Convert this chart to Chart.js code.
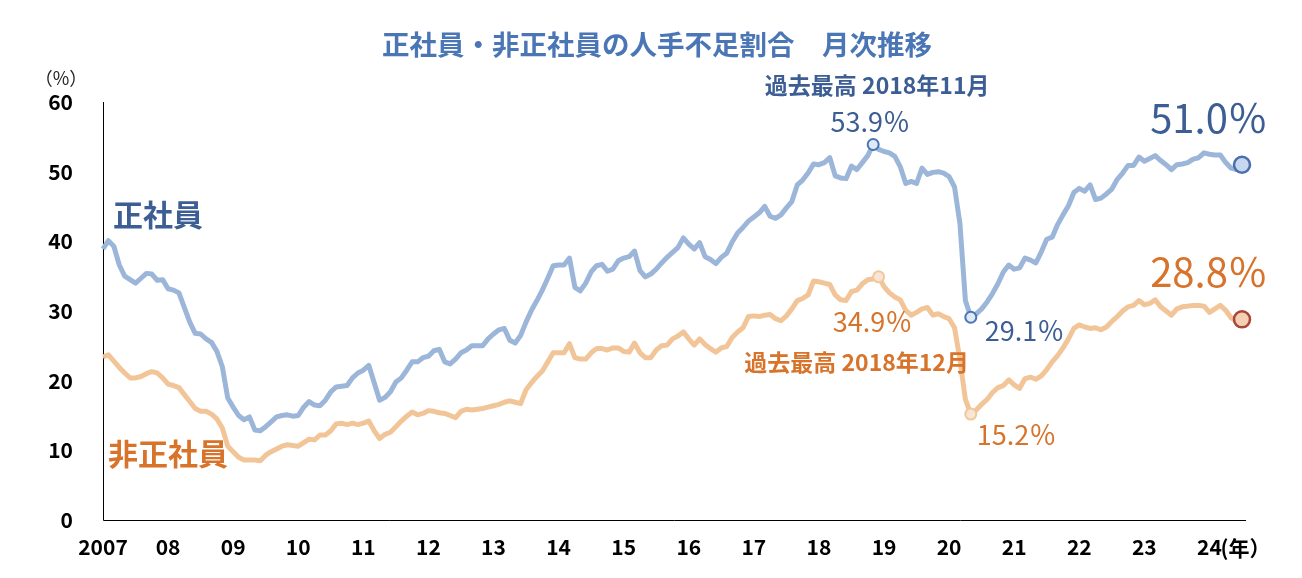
<!DOCTYPE html>
<html>
<head>
<meta charset="utf-8">
<script src="https://cdn.jsdelivr.net/npm/chart.js@4"></script>
<style>
  html, body { margin: 0; padding: 0; background: #fff; }
  #wrap { width: 1302px; height: 578px; position: relative; }
</style>
</head>
<body>
<div id="wrap"><canvas id="chart"></canvas></div>
<script>
// ─── DATA ─────────────────────────────────────────────────────────────
// Monthly series, Jan 2007 .. Jul 2024 (211 months), % of firms short of staff
const YEARS = ['2007','08','09','10','11','12','13','14','15','16','17','18','19','20','21','22','23','24'];
const MONTHS_IN_LAST_YEAR = 7;

const SEIKI = [ // 正社員
  38.9, 40.1, 39.3, 36.6, 35.0, 34.5, 34.0, 34.7, 35.4, 35.3, 34.4, 34.5,
  33.2, 33.0, 32.6, 30.5, 28.4, 26.8, 26.7, 26.0, 25.5, 24.2, 22.0, 17.5,
  16.2, 15.0, 14.4, 14.8, 12.9, 12.8, 13.4, 14.1, 14.8, 15.0, 15.1, 14.9,
  15.0, 16.2, 17.0, 16.5, 16.4, 17.2, 18.4, 19.1, 19.2, 19.3, 20.4, 21.1,
  21.5, 22.2, 19.7, 17.2, 17.6, 18.4, 19.8, 20.4, 21.5, 22.7, 22.7, 23.3,
  23.5, 24.3, 24.5, 22.7, 22.4, 23.1, 24.0, 24.4, 25.0, 25.0, 25.0, 26.0,
  26.7, 27.3, 27.5, 25.8, 25.4, 26.5, 28.4, 30.1, 31.5, 33.0, 34.7, 36.5,
  36.6, 36.6, 37.6, 33.4, 32.9, 34.0, 35.6, 36.5, 36.7, 35.7, 36.0, 37.2,
  37.6, 37.8, 38.6, 35.8, 34.9, 35.3, 36.0, 36.9, 37.7, 38.4, 39.1, 40.5,
  39.6, 38.9, 39.8, 37.8, 37.4, 36.8, 37.7, 38.3, 39.9, 41.2, 42.0, 42.9,
  43.5, 44.1, 45.0, 43.6, 43.3, 43.8, 44.8, 45.7, 48.1, 48.8, 49.8, 51.1,
  51.0, 51.3, 52.0, 49.4, 49.1, 49.0, 50.8, 50.3, 51.3, 52.3, 53.9, 53.2,
  52.9, 52.7, 52.2, 50.7, 48.3, 48.6, 48.3, 50.5, 49.6, 49.9, 50.0, 49.8,
  49.3, 47.8, 42.5, 31.5, 29.1, 29.6, 30.3, 31.3, 32.5, 33.9, 35.6, 36.6,
  36.0, 36.2, 37.6, 37.3, 36.9, 38.5, 40.3, 40.6, 42.4, 43.8, 45.1, 47.0,
  47.6, 47.2, 48.1, 46.0, 46.2, 46.8, 47.5, 48.9, 49.8, 50.9, 50.9, 52.1,
  51.5, 51.9, 52.3, 51.6, 51.0, 50.3, 51.0, 51.1, 51.3, 51.8, 52.0, 52.7,
  52.5, 52.4, 52.4, 51.3, 50.5, 50.3, 51.0,
];

const HISEIKI = [ // 非正社員
  23.4, 23.7, 22.8, 21.9, 21.1, 20.4, 20.4, 20.6, 21.0, 21.3, 21.1, 20.4,
  19.5, 19.3, 19.0, 18.0, 17.0, 16.0, 15.6, 15.6, 15.2, 14.5, 13.2, 10.6,
   9.8,  9.0,  8.6,  8.6,  8.6,  8.5,  9.3,  9.8, 10.2, 10.6, 10.8, 10.7,
  10.6, 11.1, 11.6, 11.5, 12.2, 12.2, 12.8, 13.8, 13.9, 13.7, 13.9, 13.7,
  13.9, 14.2, 12.8, 11.7, 12.3, 12.6, 13.4, 14.2, 14.9, 15.5, 15.1, 15.3,
  15.7, 15.6, 15.4, 15.3, 15.0, 14.7, 15.6, 15.9, 15.8, 15.9, 16.0, 16.2,
  16.4, 16.6, 16.9, 17.1, 16.9, 16.7, 18.7, 19.7, 20.6, 21.4, 22.7, 24.0,
  24.0, 24.0, 25.3, 23.3, 23.1, 23.1, 24.0, 24.6, 24.6, 24.4, 24.7, 24.7,
  24.2, 24.1, 25.4, 24.0, 23.3, 23.3, 24.4, 25.0, 25.1, 26.0, 26.4, 27.0,
  26.0, 25.1, 26.0, 25.2, 24.6, 24.1, 24.7, 24.9, 26.2, 27.0, 27.6, 29.2,
  29.3, 29.2, 29.4, 29.5, 28.9, 28.6, 29.3, 30.3, 31.5, 31.8, 32.3, 34.3,
  34.2, 34.0, 33.8, 32.3, 31.6, 31.5, 32.8, 33.0, 33.9, 34.5, 34.6, 34.9,
  33.5, 32.6, 32.0, 31.6, 30.1, 29.4, 29.8, 30.3, 30.5, 29.4, 29.6, 29.2,
  28.9, 27.6, 23.0, 17.3, 15.2, 15.8, 16.6, 17.3, 18.3, 19.0, 19.3, 20.1,
  19.4, 18.9, 20.3, 20.5, 20.2, 20.7, 21.6, 22.7, 23.6, 24.7, 26.0, 27.5,
  28.0, 27.7, 27.5, 27.6, 27.3, 27.7, 28.5, 29.2, 30.0, 30.6, 30.8, 31.5,
  30.9, 31.1, 31.6, 30.6, 30.0, 29.4, 30.3, 30.6, 30.7, 30.8, 30.8, 30.7,
  29.8, 30.3, 30.8, 30.1, 29.0, 28.5, 28.8,
];

const Y_TICKS = [0, 10, 20, 30, 40, 50, 60];

// month categories: "2007-01" ...
const MONTHS = [];
YEARS.forEach((y, yi) => {
  const full = yi === 0 ? 2007 : 2000 + parseInt(y, 10);
  const n = yi === YEARS.length - 1 ? MONTHS_IN_LAST_YEAR : 12;
  for (let m = 1; m <= n; m++) MONTHS.push(full + '-' + String(m).padStart(2, '0'));
});

// highlighted points (index into the series)
const SEIKI_PEAK = SEIKI.indexOf(Math.max(...SEIKI));
const SEIKI_LOW = MONTHS.indexOf('2020-05');
const HISEIKI_PEAK = HISEIKI.indexOf(Math.max(...HISEIKI));
const HISEIKI_LOW = MONTHS.indexOf('2020-05');
const LAST = MONTHS.length - 1;

// ─── STYLE ────────────────────────────────────────────────────────────
const FONT = "'Noto Sans CJK JP', 'Noto Sans', sans-serif";
const BLUE_LINE = '#9cb6d9';
const ORANGE_LINE = '#f2c598';
const BLUE_TEXT = '#3d5e94';
const ORANGE_TEXT = '#d8732b';

function pointStyle(specials) {
  return {
    pointRadius: ctx => specials[ctx.dataIndex]?.r ?? 0,
    pointHoverRadius: ctx => specials[ctx.dataIndex]?.r ?? 0,
    pointBackgroundColor: ctx => specials[ctx.dataIndex]?.fill ?? 'transparent',
    pointBorderColor: ctx => specials[ctx.dataIndex]?.stroke ?? 'transparent',
    pointBorderWidth: ctx => specials[ctx.dataIndex]?.w ?? 0,
  };
}

const seikiPts = {
  [SEIKI_PEAK]: { r: 5.5, fill: '#deebf6', stroke: '#4a74b4', w: 2 },
  [SEIKI_LOW]: { r: 5.5, fill: '#deebf6', stroke: '#4a74b4', w: 2 },
  [LAST]: { r: 8, fill: '#c6d7ef', stroke: '#4a6fae', w: 2.5 },
};
const hiseikiPts = {
  [HISEIKI_PEAK]: { r: 5.5, fill: '#f8e6d4', stroke: '#f2c79b', w: 2 },
  [HISEIKI_LOW]: { r: 5.5, fill: '#f8e6d4', stroke: '#f2c79b', w: 2 },
  [LAST]: { r: 8, fill: '#f5cfb1', stroke: '#a8463b', w: 2.5 },
};

// Axis lines, title and annotation texts
const annotatePlugin = {
  id: 'annotate',
  beforeDatasetsDraw(chart) {
    const { ctx, chartArea: a } = chart;
    ctx.save();
    ctx.strokeStyle = '#000';
    ctx.lineWidth = 1;
    ctx.beginPath();
    ctx.moveTo(a.left + 0.5, a.top);
    ctx.lineTo(a.left + 0.5, a.bottom + 0.5);
    ctx.lineTo(a.right + 4, a.bottom + 0.5);
    ctx.stroke();
    ctx.restore();
  },
  afterDraw(chart) {
    const { ctx, scales: { x, y } } = chart;
    const px = i => x.getPixelForValue(i);
    const py = v => y.getPixelForValue(v);
    const text = (s, tx, ty, color, size, weight = 'normal', align = 'center') => {
      ctx.font = `${weight} ${size}px ${FONT}`;
      ctx.fillStyle = color;
      ctx.textAlign = align;
      ctx.textBaseline = 'middle';
      ctx.fillText(s, tx, ty);
    };
    ctx.save();
    text('正社員・非正社員の人手不足割合　月次推移', 657, 45, '#4a76b6', 27.5, 'bold');
    text('（%）', 61, 78, '#222', 18);
    // year unit after the last tick label
    text('(年）', px(LAST - MONTHS_IN_LAST_YEAR + 1) + 11, 548, '#000', 21, 'bold', 'left');

    text('正社員', 113, 215, BLUE_TEXT, 30, 'bold', 'left');
    text('非正社員', 108, 454, ORANGE_TEXT, 30, 'bold', 'left');

    const bx = px(SEIKI_PEAK), by = py(SEIKI[SEIKI_PEAK]);
    text('過去最高 2018年11月', bx + 4, by - 59, BLUE_TEXT, 23, 'bold');
    text(SEIKI[SEIKI_PEAK].toFixed(1) + '％', bx - 3, by - 23, BLUE_TEXT, 27);

    const lx = px(LAST);
    text(SEIKI[LAST].toFixed(1) + '％', lx - 33, py(SEIKI[LAST]) - 47, BLUE_TEXT, 40);
    text(HISEIKI[LAST].toFixed(1) + '％', lx - 33, py(HISEIKI[LAST]) - 48, ORANGE_TEXT, 40);

    const ox = px(HISEIKI_PEAK), oy = py(HISEIKI[HISEIKI_PEAK]);
    text(HISEIKI[HISEIKI_PEAK].toFixed(1) + '％', ox - 6, oy + 45, ORANGE_TEXT, 27);
    text('過去最高 2018年12月', ox - 22, oy + 85, ORANGE_TEXT, 23, 'bold');

    text(SEIKI[SEIKI_LOW].toFixed(1) + '％', px(SEIKI_LOW) + 14, py(SEIKI[SEIKI_LOW]) + 13, BLUE_TEXT, 27, 'normal', 'left');
    text(HISEIKI[HISEIKI_LOW].toFixed(1) + '％', px(HISEIKI_LOW) + 6, py(HISEIKI[HISEIKI_LOW]) + 21, ORANGE_TEXT, 27, 'normal', 'left');
    ctx.restore();
  },
};

new Chart(document.getElementById('chart'), {
  type: 'line',
  data: {
    labels: MONTHS,
    datasets: [
      {
        label: '非正社員',
        data: HISEIKI,
        borderColor: ORANGE_LINE,
        borderWidth: 5,
        borderJoinStyle: 'round',
        tension: 0,
        clip: false,
        ...pointStyle(hiseikiPts),
      },
      {
        label: '正社員',
        data: SEIKI,
        borderColor: BLUE_LINE,
        borderWidth: 5,
        borderJoinStyle: 'round',
        tension: 0,
        clip: false,
        ...pointStyle(seikiPts),
      },
    ],
  },
  options: {
    responsive: true,
    maintainAspectRatio: false,
    animation: false,
    events: [],
    layout: { padding: { top: 102, right: 60, left: 0, bottom: 0 } },
    scales: {
      x: {
        type: 'category',
        offset: false,
        grid: { display: false, drawTicks: false },
        border: { display: false },
        afterFit: s => { s.height = 58; },
        ticks: {
          autoSkip: false,
          maxRotation: 0,
          padding: 14,
          color: '#000',
          font: { family: FONT, size: 21, weight: 'bold' },
          callback: (v, i) => (i % 12 === 0 ? YEARS[i / 12] : null),
        },
      },
      y: {
        min: 0, max: 60,
        afterFit: s => { s.width = 103; },
        afterBuildTicks: s => { s.ticks = Y_TICKS.map(v => ({ value: v })); },
        grid: { display: false, drawTicks: false },
        border: { display: false },
        ticks: {
          padding: 30,
          color: '#000',
          font: { family: FONT, size: 21, weight: 'bold' },
        },
      },
    },
    plugins: {
      legend: { display: false },
      tooltip: { enabled: false },
    },
  },
  plugins: [annotatePlugin],
});
</script>
</body>
</html>
